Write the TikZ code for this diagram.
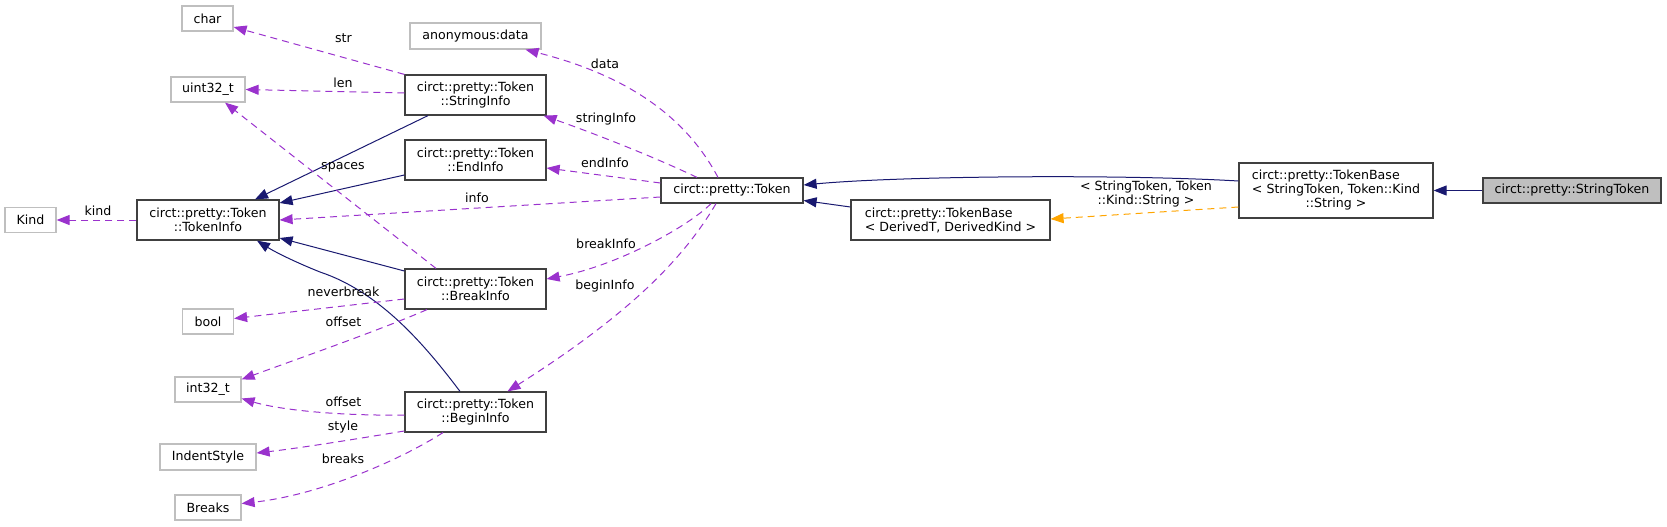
\documentclass[tikz,border=0pt]{standalone}
\usepackage{fontspec}
\setmainfont{DejaVu Sans}
\usetikzlibrary{arrows.meta}
\definecolor{edgenavy}{HTML}{191970}
\definecolor{edgepurple}{HTML}{9A32CD}
\definecolor{edgeorange}{HTML}{FFA500}
\definecolor{boxdark}{HTML}{404040}
\definecolor{boxgray}{HTML}{BFBFBF}
\begin{document}
\begin{tikzpicture}[x=1pt,y=-1pt,
  every node/.style={inner sep=0pt, font=\fontsize{12.6}{14}\selectfont},
  cls/.style={draw=boxdark, line width=1.2pt, fill=white, align=center},
  ext/.style={draw=boxgray, line width=1.2pt, fill=white},
  mainbox/.style={draw=boxdark, line width=1.2pt, fill=boxgray},
  inh/.style={draw=edgenavy, line width=1pt, -{Triangle[length=13pt,width=10pt]}},
  mem/.style={draw=edgepurple, line width=1pt, dash pattern=on 7pt off 5pt, -{Triangle[length=13pt,width=10pt]}},
  tmpl/.style={draw=edgeorange, line width=1pt, dash pattern=on 7pt off 5pt, -{Triangle[length=13pt,width=10pt]}},
  lbl/.style={fill=none}
]
\useasboundingbox (0,0) rectangle (1667,527);

% nodes
\node[ext, minimum width=51pt, minimum height=25pt] (char) at (207.5,18.5) {char};
\node[ext, minimum width=131pt, minimum height=26pt] (data) at (475.5,36) {anonymous:data};
\node[ext, minimum width=74pt, minimum height=25pt] (uint) at (208,89.5) {uint32\_t};
\node[cls, minimum width=141pt, minimum height=40pt] (strinfo) at (475.5,95) {circt::pretty::Token\\::StringInfo};
\node[cls, minimum width=141pt, minimum height=40pt] (endinfo) at (475.5,160) {circt::pretty::Token\\::EndInfo};
\node[cls, minimum width=142pt, minimum height=40pt] (tokinfo) at (208,220) {circt::pretty::Token\\::TokenInfo};
\node[ext, minimum width=51pt, minimum height=25pt] (kind) at (30.5,220) {Kind};
\node[cls, minimum width=142pt, minimum height=25pt] (token) at (732,190.5) {circt::pretty::Token};
\node[cls, minimum width=141pt, minimum height=40pt] (breakinfo) at (475.5,289) {circt::pretty::Token\\::BreakInfo};
\node[cls, minimum width=141pt, minimum height=40pt] (begininfo) at (475.5,412) {circt::pretty::Token\\::BeginInfo};
\node[ext, minimum width=51pt, minimum height=25pt] (bool) at (208,321.5) {bool};
\node[ext, minimum width=66pt, minimum height=25pt] (int) at (208,389.5) {int32\_t};
\node[ext, minimum width=96pt, minimum height=26pt] (indent) at (208,457) {IndentStyle};
\node[ext, minimum width=66pt, minimum height=25pt] (breaks) at (208,507.5) {Breaks};
\node[cls, align=left, minimum width=199pt, minimum height=40pt] (tbd) at (950.5,220) {circt::pretty::TokenBase\\< DerivedT, DerivedKind >};
\node[cls, minimum width=194pt, minimum height=55pt] (tbs) at (1336,190.5) {\begin{tabular}{@{}l@{}}circt::pretty::TokenBase\\< StringToken, Token::Kind\\\multicolumn{1}{@{}c@{}}{::String >}\end{tabular}};
\node[mainbox, minimum width=178pt, minimum height=25pt] (stok) at (1572,190.5) {circt::pretty::StringToken};

% inheritance edges
\draw[inh] (stok.west) -- (tbs.east);
\draw[inh] ([yshift=9.5pt]tbs.west) .. controls (1120,174) and (900,176) .. ([yshift=5.5pt]token.east);
\draw[inh] ([yshift=13pt]tbd.west) -- ([yshift=-10pt]token.east);
\draw[inh] ([xshift=-47.5pt]strinfo.south) -- ([xshift=47pt]tokinfo.north);
\draw[inh] ([yshift=-15pt]endinfo.west) -- ([yshift=17pt]tokinfo.east);
\draw[inh] ([yshift=18pt]breakinfo.west) -- ([yshift=-18pt]tokinfo.east);
\draw[inh] ([xshift=-15.5pt]begininfo.north) .. controls (425,345) and (380,292) .. (320,272) .. controls (295,262) and (275,252) .. ([xshift=49pt]tokinfo.south);

% template edge
\draw[tmpl] ([yshift=-16.5pt]tbs.west) -- ([yshift=1pt]tbd.east);
\node[lbl, align=center] (ltmpl) at (1146,194) {< StringToken, Token\\::Kind::String >};

% member edges
\draw[mem] ([xshift=-14pt]token.north) .. controls (685,115) and (625,75) .. ([xshift=50pt]data.south);
\draw[mem] ([xshift=-35pt]token.north) .. controls (650,155) and (590,132) .. ([xshift=-3pt]strinfo.south east);
\draw[mem] ([yshift=7.5pt]token.west) -- ([yshift=-8pt]endinfo.east);
\draw[mem] ([yshift=-6.5pt]token.west) -- (tokinfo.east);
\draw[mem] ([xshift=-21pt]token.south) .. controls (690,225) and (620,265) .. ([yshift=10pt]breakinfo.east);
\draw[mem] ([xshift=-16pt]token.south) .. controls (680,265) and (620,320) .. ([xshift=32pt]begininfo.north);

\draw[mem] (strinfo.north west) -- ([yshift=-8.5pt]char.east);
\draw[mem] ([yshift=2pt]strinfo.west) -- (uint.east);
\draw[mem] ([xshift=-39.5pt]breakinfo.north) -- ([xshift=17pt]uint.south);
\draw[mem] (tokinfo.west) -- (kind.east);
\draw[mem] ([yshift=-10pt]breakinfo.west) -- ([yshift=3pt]bool.east);
\draw[mem] ([xshift=-48.5pt]breakinfo.south) .. controls (380,330) and (300,358) .. ([yshift=-3pt]int.north east);
\draw[mem] ([yshift=-3pt]begininfo.west) .. controls (340,416) and (280,410) .. ([yshift=-9pt]int.east);
\draw[mem] ([yshift=-19pt]begininfo.west) .. controls (350,440) and (300,448) .. ([yshift=4pt]indent.east);
\draw[mem] ([xshift=-32.5pt]begininfo.south) .. controls (400,460) and (320,495) .. ([yshift=4pt]breaks.east);

% member labels
\node[lbl] (lstr) at (343.5,38) {str};
\node[lbl] (llen) at (343,83) {len};
\node[lbl] (lspaces) at (343,167) {spaces};
\node[lbl] (lkind) at (98,211) {kind};
\node[lbl] (linfo) at (477,198) {info};
\node[lbl] (lnever) at (343.5,292) {neverbreak};
\node[lbl] (loff1) at (343.5,322) {offset};
\node[lbl] (loff2) at (343.5,402) {offset};
\node[lbl] (lstyle) at (343,427) {style};
\node[lbl] (lbreaks) at (343,459) {breaks};
\node[lbl] (ldata) at (605,64) {data};
\node[lbl] (lstrinfo) at (606,119) {stringInfo};
\node[lbl] (lendinfo) at (605,163) {endInfo};
\node[lbl] (lbreakinfo) at (606,244) {breakInfo};
\node[lbl] (lbegininfo) at (605,286) {beginInfo};
\end{tikzpicture}
\end{document}
